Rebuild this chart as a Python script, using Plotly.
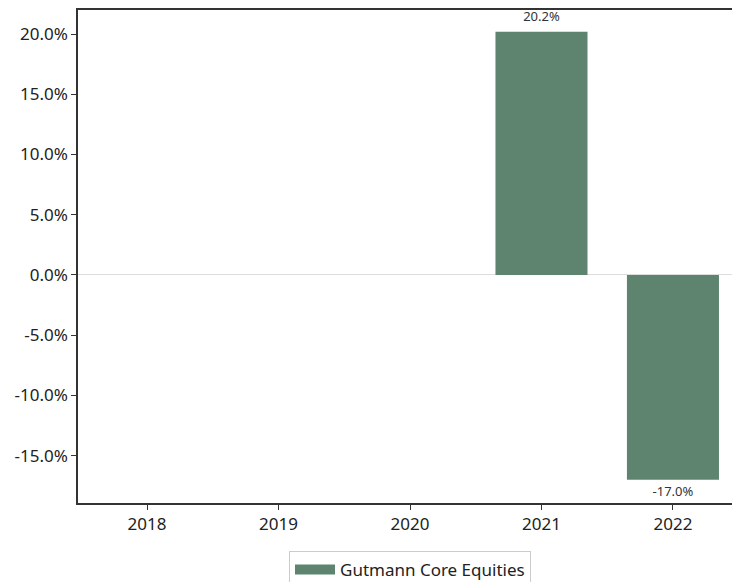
import plotly.graph_objects as go

years = ["2018", "2019", "2020", "2021", "2022"]
returns = [None, None, None, 20.2, -17.0]
series_name = "Gutmann Core Equities"
y_ticks = [-15, -10, -5, 0, 5, 10, 15, 20]
y_tick_labels = ["-15.0%", "-10.0%", "-5.0%", "0.0%", "5.0%", "10.0%", "15.0%", "20.0%"]

color = "#5E8470"
font_family = "Noto Sans, Open Sans, sans-serif"

fig = go.Figure()
fig.add_trace(go.Bar(
    x=years, y=returns, width=0.7,
    marker=dict(color=color, line=dict(width=0)),
    showlegend=False, hoverinfo="skip",
))
# legend entry
fig.add_trace(go.Scatter(
    x=[None], y=[None], mode="lines", name=series_name,
    line=dict(color=color, width=12),
))

# value labels (invisible markers give the label offset)
label_pos = ["bottom center" if (v is not None and v < 0) else "top center" for v in returns]
label_gap = [8 if (v is not None and v < 0) else 11 for v in returns]
fig.add_trace(go.Scatter(
    x=years, y=returns, mode="markers+text",
    text=["" if v is None else f"{v:.1f}%" for v in returns],
    textposition=label_pos,
    marker=dict(size=label_gap, opacity=0, color=color),
    textfont=dict(size=13, color="#333333", family=font_family),
    showlegend=False, hoverinfo="skip", cliponaxis=False,
))

fig.update_layout(
    width=732, height=582,
    margin=dict(l=78, r=0, t=10, b=79, pad=0),
    paper_bgcolor="white", plot_bgcolor="white",
    font=dict(family=font_family, color="#222222"),
    showlegend=True,
    legend=dict(
        xref="container", yref="container",
        x=410 / 732, xanchor="center", y=1 - 551 / 582, yanchor="top",
        orientation="h", bordercolor="#cccccc", borderwidth=1,
        font=dict(size=17, color="#222222"),
        itemwidth=40,
    ),
)
fig.update_xaxes(
    type="category", range=[-0.525, 4.449], automargin=False,
    showline=True, linecolor="#333333", linewidth=1.5, mirror=True,
    ticks="outside", ticklen=5, tickcolor="#333333",
    tickfont=dict(size=17), showgrid=False, zeroline=False,
)
fig.update_yaxes(
    range=[-18.93, 22.0], tickvals=y_ticks, ticktext=y_tick_labels,
    automargin=False,
    showline=True, linecolor="#333333", linewidth=1.5, mirror=False,
    ticks="outside", ticklen=5, tickcolor="#333333",
    tickfont=dict(size=17), showgrid=False,
    zeroline=True, zerolinecolor="#dddddd", zerolinewidth=1,
)

fig.write_html(
    "out.html",
    config={"displayModeBar": False},
    post_script="document.body.style.margin='0';document.body.style.overflow='hidden';",
)
